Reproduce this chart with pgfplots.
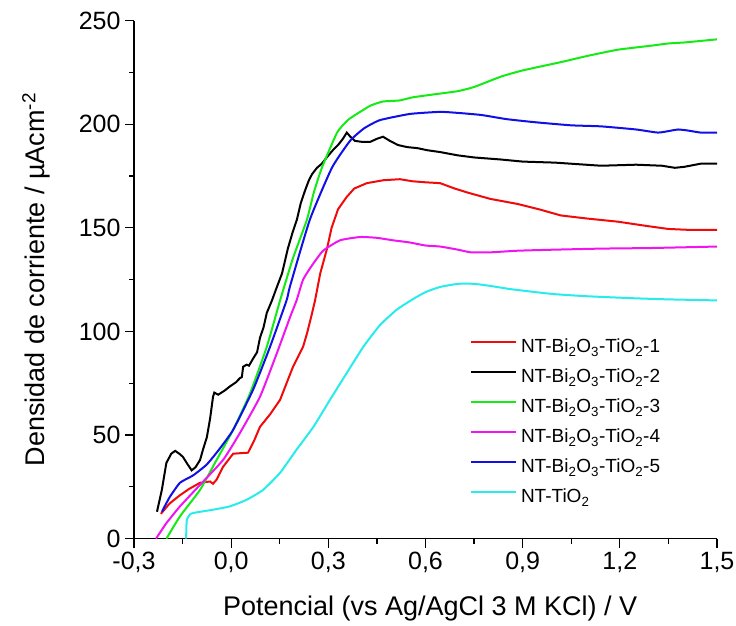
\documentclass[border=0pt]{standalone}
\usepackage{fontspec}
\setmainfont{Liberation Sans}
\usepackage{pgfplots}
\pgfplotsset{compat=1.18}

\definecolor{cRed}{RGB}{240,10,10}
\definecolor{cGreen}{RGB}{20,235,20}
\definecolor{cMag}{RGB}{240,20,240}
\definecolor{cBlue}{RGB}{15,15,230}
\definecolor{cCyan}{RGB}{40,235,235}

\begin{document}
\begin{tikzpicture}
\begin{axis}[
    name=ax,
    scale only axis,
    width=583pt, height=518pt,
    xmin=-0.3, xmax=1.5, ymin=0, ymax=250,
    axis x line*=bottom, axis y line*=left,
    axis line style={line width=1.2pt},
    tick align=outside,
    major tick length=9pt, minor tick length=5pt,
    every tick/.style={black, line width=1.2pt},
    minor x tick num=1, minor y tick num=1,
    xtick={-0.3,0,0.3,0.6,0.9,1.2,1.5},
    xticklabels={{-0,3},{0,0},{0,3},{0,6},{0,9},{1,2},{1,5}},
    ytick={0,50,100,150,200,250},
    yticklabels={0,50,100,150,200,250},
    tick label style={font=\fontsize{25}{29}\selectfont},
    xticklabel style={yshift=-1pt},
    yticklabel style={xshift=-1pt},
    xlabel={Potencial (vs Ag/AgCl 3 M KCl) / V},
    ylabel={Densidad de corriente / µAcm\textsuperscript{-2}},
    label style={font=\fontsize{27}{31}\selectfont},
    xlabel style={at={(axis description cs:0.508,-0.135)}, anchor=center},
    ylabel style={at={(axis description cs:-0.168,0.5)}, anchor=center},
    legend style={at={(axis description cs:0.576,0.386)}, anchor=north west,
        draw=none, fill=none, inner sep=0pt, row sep=11pt,
        font=\fontsize{19}{22}\selectfont,
        nodes={inner xsep=4pt, inner ysep=0pt, text height=14pt, text depth=5pt}},
    legend cell align=left,
    legend image code/.code={\draw[#1, line width=2pt] (0pt,6pt) -- (45pt,6pt);},
    every axis plot/.append style={line width=2pt},
]
% NT-Bi2O3-TiO2-1
\addplot[cRed] coordinates {
(-0.217,12) (-0.19,17) (-0.158,21) (-0.13,24) (-0.096,27) (-0.065,27.6) (-0.056,26.5)
(-0.045,28.5) (-0.025,34.7) (0.006,41) (0.03,41.3) (0.052,41.5) (0.07,47) (0.089,54)
(0.12,60) (0.151,67) (0.191,83) (0.222,92.6) (0.234,99) (0.25,109) (0.259,115)
(0.275,128) (0.296,140) (0.31,150) (0.33,159) (0.357,165) (0.38,169) (0.419,171.6)
(0.47,173) (0.521,173.5) (0.56,172.5) (0.6,172) (0.645,171.6) (0.69,169) (0.731,167)
(0.8,164) (0.886,161.5) (0.95,159) (1.018,156) (1.1,154.5) (1.194,153) (1.28,151)
(1.349,149.5) (1.42,149) (1.5,149)};
% NT-Bi2O3-TiO2-2
\addplot[black] coordinates {
(-0.229,13) (-0.214,23.6) (-0.2,36.6) (-0.185,41) (-0.173,42.4) (-0.16,41) (-0.149,39.5)
(-0.135,36) (-0.122,33) (-0.11,34.5) (-0.096,38) (-0.087,43) (-0.075,49) (-0.065,58)
(-0.056,68.5) (-0.052,70.5) (-0.04,69.5) (-0.02,71.5) (-0.004,73.5) (0.015,75.5)
(0.027,77.5) (0.033,78) (0.037,83) (0.048,84) (0.055,83.5) (0.068,87) (0.08,90)
(0.089,97) (0.1,102) (0.11,109) (0.126,115) (0.14,121) (0.157,128) (0.175,140)
(0.19,148) (0.203,154) (0.215,162) (0.228,168) (0.24,173) (0.25,176) (0.265,179)
(0.28,181) (0.295,184) (0.314,187.5) (0.33,190) (0.345,193) (0.357,196) (0.368,194)
(0.382,192) (0.405,191.5) (0.429,191.5) (0.45,193) (0.469,194) (0.49,192) (0.515,190)
(0.543,189) (0.575,188.5) (0.605,187.5) (0.645,186.6) (0.7,185) (0.75,184) (0.833,183)
(0.9,182) (1.0,181.5) (1.142,180) (1.25,180.5) (1.33,180) (1.37,179) (1.4,179.5)
(1.45,181) (1.5,181)};
% NT-Bi2O3-TiO2-3
\addplot[cGreen, smooth, tension=0.3] coordinates {
(-0.2,0) (-0.158,10.8) (-0.096,23.6) (-0.045,38) (0.006,52.5) (0.058,70) (0.11,92.6)
(0.151,115) (0.19,135) (0.234,154) (0.255,167) (0.28,179) (0.327,196) (0.36,202)
(0.388,205) (0.43,209) (0.469,211) (0.52,211.5) (0.56,213) (0.629,214.5) (0.7,216)
(0.75,218) (0.833,223) (0.9,226) (1.018,230) (1.1,233) (1.194,236) (1.3,238)
(1.349,239) (1.4,239.5) (1.5,241)};
% NT-Bi2O3-TiO2-4
\addplot[cMag, smooth, tension=0.3] coordinates {
(-0.232,0) (-0.2,7.5) (-0.158,15.6) (-0.096,26) (-0.025,38) (0.027,51) (0.089,68.5)
(0.141,89.5) (0.182,107) (0.202,115) (0.222,125) (0.25,132) (0.284,139) (0.336,144)
(0.398,145.6) (0.45,145.2) (0.5,144) (0.55,143) (0.6,141.5) (0.645,141) (0.7,139.5)
(0.74,138.2) (0.8,138.2) (0.886,139) (1.0,139.5) (1.142,140) (1.3,140.3) (1.5,141)};
% NT-Bi2O3-TiO2-5
\addplot[cBlue, smooth, tension=0.3] coordinates {
(-0.214,13) (-0.19,20) (-0.158,27) (-0.118,30.5) (-0.076,35.7) (-0.04,42.5) (0.006,52.5)
(0.068,72) (0.12,92.6) (0.171,115) (0.182,122) (0.243,154) (0.311,179) (0.367,192)
(0.41,198) (0.459,202) (0.552,205) (0.645,206) (0.7,205.5) (0.772,204.5) (0.85,202.5)
(0.938,201) (1.05,199.5) (1.142,199) (1.25,197.5) (1.318,196) (1.36,197) (1.38,197.5)
(1.41,197) (1.45,196) (1.5,196)};
% NT-TiO2
\addplot[cCyan, smooth, tension=0.3] coordinates {
(-0.139,0) (-0.137,9) (-0.125,12) (-0.107,12.7) (-0.056,14) (-0.004,15.6) (0.048,18.8)
(0.099,23.6) (0.151,31.8) (0.202,43) (0.254,54) (0.305,67) (0.357,80) (0.408,92.6)
(0.459,103) (0.511,110.5) (0.56,115.5) (0.6,119) (0.645,121.5) (0.7,123) (0.75,123)
(0.8,122) (0.86,120.5) (0.94,119) (1.0,118) (1.1,117) (1.25,116) (1.35,115.5) (1.5,115)};
\legend{NT-Bi\textsubscript{2}O\textsubscript{3}-TiO\textsubscript{2}-1,
        NT-Bi\textsubscript{2}O\textsubscript{3}-TiO\textsubscript{2}-2,
        NT-Bi\textsubscript{2}O\textsubscript{3}-TiO\textsubscript{2}-3,
        NT-Bi\textsubscript{2}O\textsubscript{3}-TiO\textsubscript{2}-4,
        NT-Bi\textsubscript{2}O\textsubscript{3}-TiO\textsubscript{2}-5,
        NT-TiO\textsubscript{2}}
\end{axis}
\pgfresetboundingbox
\path ([xshift=-134pt, yshift=-87pt]ax.south west) rectangle ([xshift=19pt, yshift=20.7pt]ax.north east);
\end{tikzpicture}
\end{document}
